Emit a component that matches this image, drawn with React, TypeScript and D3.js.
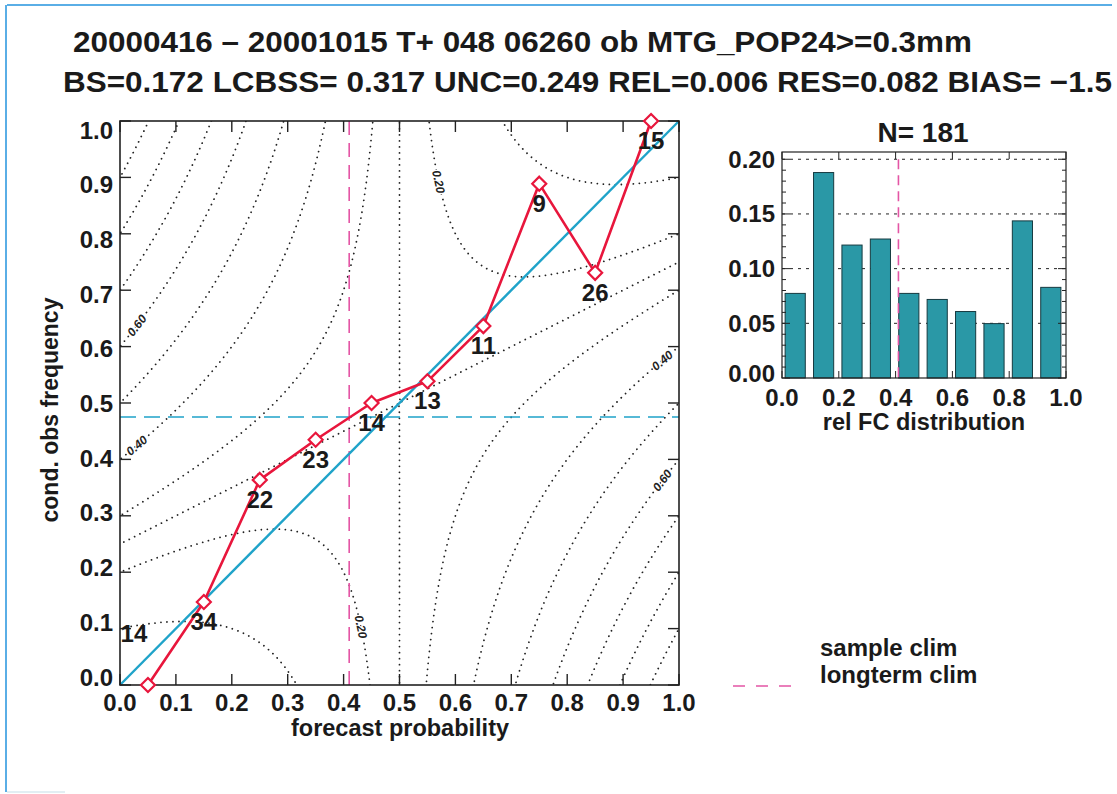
import React from 'react';
import * as d3 from 'd3';

// ---------- data ----------
const forecastProb = [0.05, 0.15, 0.25, 0.35, 0.45, 0.55, 0.65, 0.75, 0.85, 0.95];
const binCounts = [14, 34, 22, 23, 14, 13, 11, 9, 26, 15];
const binHits = [0, 5, 8, 10, 7, 7, 7, 8, 19, 15];
const longtermClim = 0.41;
const contourLevels = [0.1, 0.2, 0.25, 0.3, 0.4, 0.5, 0.6, 0.7, 0.8, 0.9];
const contourLabelLevels = [0.6, 0.4, 0.2, 0.2, 0.4, 0.6];
const contourLabelP = [0.03, 0.03, 0.431, 0.57, 0.97, 0.97];
const mainTicks = d3.range(0, 11).map((i) => i / 10);
const histYTicks = [0, 0.05, 0.1, 0.15, 0.2];
const histXTicks = [0, 0.2, 0.4, 0.6, 0.8, 1.0];
const titleLine1 = '20000416 \u2013 20001015 T+ 048 06260 ob MTG_POP24>=0.3mm';
const titleLine2 = 'BS=0.172 LCBSS= 0.317 UNC=0.249 REL=0.006 RES=0.082 BIAS= \u22121.5';

// ---------- derived ----------
const total = d3.sum(binCounts);
const obsFreq = binHits.map((h, i) => h / binCounts[i]);
const relFreq = binCounts.map((c) => c / total);
const sampleClim = d3.sum(binHits) / total;

const FONT = '"Liberation Sans", Arial, Helvetica, sans-serif';
const RED = '#e8163c';
const CYAN = '#1fa3c9';
const PINK = '#e455a5';
const TEAL = '#2a98a6';
const INK = '#1a1a1a';

const bsFun = (p: number, o: number) => p * p - 2 * o * p + o;

export default function App() {
  // main plot scales
  const x = d3.scaleLinear().domain([0, 1]).range([120, 679]);
  const y = d3.scaleLinear().domain([0, 1]).range([685, 121]);
  const yLab = d3.scaleLinear().domain([0, 1]).range([677, 130]);

  // contour grid
  const n = 200;
  const g0 = -0.05;
  const g1 = 1.05;
  const step = (g1 - g0) / (n - 1);
  const values: number[] = new Array(n * n);
  for (let j = 0; j < n; j++) {
    for (let i = 0; i < n; i++) {
      values[j * n + i] = bsFun(g0 + i * step, g0 + j * step);
    }
  }
  const contours = d3.contours().size([n, n]).thresholds(contourLevels)(values);
  const proj = d3.geoTransform({
    point(cx: number, cy: number) {
      // @ts-ignore
      this.stream.point(x(g0 + (cx - 0.5) * step), y(g0 + (cy - 0.5) * step));
    },
  });
  const cpath = d3.geoPath(proj);

  const sx = x(1) - x(0);
  const sy = y(0) - y(1);
  const labels = contourLabelLevels.map((lv, k) => {
    const p = contourLabelP[k];
    const o = (lv - p * p) / (1 - 2 * p);
    const fp = 2 * p - 2 * o;
    const fo = 1 - 2 * p;
    let ang = (Math.atan2(fp * sy, fo * sx) * 180) / Math.PI;
    if (ang > 90) ang -= 180;
    if (ang <= -90) ang += 180;
    return { lv, px: x(p), py: y(o), ang };
  });

  const line = d3
    .line<number>()
    .x((_, i) => x(forecastProb[i]))
    .y((d) => y(d));

  const diamond = (cx: number, cy: number, r: number) =>
    `M${cx},${cy - r}L${cx + r},${cy}L${cx},${cy + r}L${cx - r},${cy}Z`;

  // histogram scales
  const hx = d3.scaleLinear().domain([0, 1]).range([782, 1066]);
  const hyMax = (d3.max(relFreq) as number) * 1.1;
  const hy = d3.scaleLinear().domain([0, hyMax]).range([378, 152]);
  const hMinor = d3.range(0, 21).map((i) => i / 100);

  return (
    <svg
      width={1117}
      height={794}
      style={{ position: 'absolute', left: 0, top: 0, background: '#fff' }}
      fontFamily={FONT}
    >
      <rect x={0} y={0} width={1117} height={794} fill="#fff" />
      {/* page border (scan) */}
      <line x1={7} y1={5} x2={1112} y2={5} stroke="#5aaee6" strokeWidth={2} />
      <line x1={6} y1={5} x2={6} y2={792} stroke="#5aaee6" strokeWidth={2} />
      <line x1={7} y1={792} x2={65} y2={792} stroke="#d8e8ef" strokeWidth={1.5} />

      {/* titles */}
      <text x={73} y={52} fontSize={29} fontWeight="bold" textLength={899} lengthAdjust="spacingAndGlyphs" fill={INK}>
        {titleLine1}
      </text>
      <text x={63} y={92} fontSize={29} fontWeight="bold" textLength={1049} lengthAdjust="spacingAndGlyphs" fill={INK}>
        {titleLine2}
      </text>

      {/* ---------- main reliability diagram ---------- */}
      <defs>
        <clipPath id="mainClip">
          <rect x={x(0)} y={y(1)} width={sx} height={sy} />
        </clipPath>
      </defs>
      <g clipPath="url(#mainClip)">
        {contours.map((c, i) => (
          <path
            key={i}
            d={cpath(c as any) || ''}
            fill="none"
            stroke="#222"
            strokeWidth={1.8}
            strokeDasharray="0.01 6"
            strokeLinecap="round"
          />
        ))}
      </g>
      {labels.map((l, i) => (
        <text
          key={i}
          transform={`translate(${l.px},${l.py}) rotate(${l.ang})`}
          textAnchor="middle"
          dy="0.35em"
          fontSize={12}
          fontWeight="bold"
          fontStyle="italic"
          fill="#222"
          stroke="#fff"
          strokeWidth={2.5}
          paintOrder="stroke"
        >
          {l.lv.toFixed(2)}
        </text>
      ))}

      {/* clim lines */}
      <line x1={x(0)} x2={x(1)} y1={y(sampleClim)} y2={y(sampleClim)} stroke={CYAN} strokeWidth={1.6} strokeDasharray="16 8" />
      <line x1={x(longtermClim)} x2={x(longtermClim)} y1={y(1)} y2={y(0)} stroke={PINK} strokeWidth={1.6} strokeDasharray="14 8" />

      {/* diagonal */}
      <line x1={x(0)} y1={y(0)} x2={x(1)} y2={y(1)} stroke={CYAN} strokeWidth={2.4} />

      {/* frame & ticks */}
      <rect x={x(0)} y={y(1)} width={sx} height={sy} fill="none" stroke="#222" strokeWidth={1.6} />
      {mainTicks.map((t) => (
        <g key={'t' + t} stroke="#222" strokeWidth={1.4}>
          <line x1={x(t)} x2={x(t)} y1={y(0)} y2={y(0) - 11} />
          <line x1={x(t)} x2={x(t)} y1={y(1)} y2={y(1) + 11} />
          <line x1={x(0)} x2={x(0) + 11} y1={y(t)} y2={y(t)} />
          <line x1={x(1)} x2={x(1) - 11} y1={y(t)} y2={y(t)} />
        </g>
      ))}
      {mainTicks.map((t) => (
        <text key={'xl' + t} x={x(t)} y={711} textAnchor="middle" fontSize={24} fontWeight="bold" fill={INK}>
          {t.toFixed(1)}
        </text>
      ))}
      {mainTicks.map((t) => (
        <text key={'yl' + t} x={113} y={yLab(t) + 8.5} textAnchor="end" fontSize={24} fontWeight="bold" fill={INK}>
          {t.toFixed(1)}
        </text>
      ))}
      <text x={400} y={736} textAnchor="middle" fontSize={23.5} fontWeight="bold" fill={INK}>
        forecast probability
      </text>
      <text transform="translate(58,410) rotate(-90)" textAnchor="middle" fontSize={23} fontWeight="bold" fill={INK}>
        cond. obs frequency
      </text>

      {/* reliability curve */}
      <path d={line(obsFreq) || ''} fill="none" stroke={RED} strokeWidth={2.6} strokeLinejoin="round" />
      {obsFreq.map((o, i) => (
        <path key={'m' + i} d={diamond(x(forecastProb[i]), y(o), 7)} fill="#fff" stroke={RED} strokeWidth={2.2} />
      ))}
      {obsFreq.map((o, i) => {
        const low = o < 0.05;
        const tx = low ? x(forecastProb[i]) - 14 : x(forecastProb[i]);
        const ty = low ? y(o) - 43 : y(o) + 28;
        return (
          <text key={'c' + i} x={tx} y={ty} textAnchor="middle" fontSize={24} fontWeight="bold" fill={INK}>
            {binCounts[i]}
          </text>
        );
      })}

      {/* ---------- histogram ---------- */}
      {histYTicks.slice(1).map((t) => (
        <line key={'g' + t} x1={hx(0)} x2={hx(1)} y1={hy(t)} y2={hy(t)} stroke="#222" strokeWidth={1} strokeDasharray="3 5" />
      ))}
      {relFreq.map((f, i) => (
        <rect
          key={'b' + i}
          x={hx(i / 10 + 0.011)}
          width={hx(0.071) - hx(0)}
          y={hy(f)}
          height={hy(0) - hy(f)}
          fill={TEAL}
          stroke="#163a40"
          strokeWidth={1}
        />
      ))}
      <line x1={hx(longtermClim)} x2={hx(longtermClim)} y1={hy(0.2)} y2={hy(0)} stroke={PINK} strokeWidth={1.6} strokeDasharray="10 6" />
      <rect x={hx(0)} y={hy(hyMax)} width={hx(1) - hx(0)} height={hy(0) - hy(hyMax)} fill="none" stroke="#222" strokeWidth={1.2} />
      {hMinor.map((t, i) => {
        const len = i % 5 === 0 ? 8 : 4;
        return (
          <g key={'hm' + i} stroke="#222" strokeWidth={1}>
            <line x1={hx(0)} x2={hx(0) + len} y1={hy(t)} y2={hy(t)} />
            <line x1={hx(1)} x2={hx(1) - len} y1={hy(t)} y2={hy(t)} />
          </g>
        );
      })}
      {histXTicks.map((t) => (
        <g key={'hx' + t} stroke="#222" strokeWidth={1}>
          <line x1={hx(t)} x2={hx(t)} y1={hy(hyMax)} y2={hy(hyMax) + 7} />
          <line x1={hx(t)} x2={hx(t)} y1={hy(0)} y2={hy(0) - 7} />
        </g>
      ))}
      {histYTicks.map((t) => (
        <text key={'hyl' + t} x={775} y={hy(t) + 8.5 - (t === 0 ? 5 : 0)} textAnchor="end" fontSize={24} fontWeight="bold" fill={INK}>
          {t.toFixed(2)}
        </text>
      ))}
      {histXTicks.map((t) => (
        <text key={'hxl' + t} x={hx(t)} y={406} textAnchor="middle" fontSize={24} fontWeight="bold" fill={INK}>
          {t.toFixed(1)}
        </text>
      ))}
      <text x={924} y={430} textAnchor="middle" fontSize={23.5} fontWeight="bold" fill={INK}>
        rel FC distribution
      </text>
      <text x={923} y={142} textAnchor="middle" fontSize={28} fontWeight="bold" fill={INK}>
        {'N= ' + total}
      </text>

      {/* legend */}
      <text x={820} y={656} fontSize={24} fontWeight="bold" fill={INK}>
        sample clim
      </text>
      <text x={820} y={683} fontSize={24} fontWeight="bold" fill={INK}>
        longterm clim
      </text>
      <line x1={733} x2={791} y1={686} y2={686} stroke={PINK} strokeWidth={1.6} strokeDasharray="12 11" />
    </svg>
  );
}
